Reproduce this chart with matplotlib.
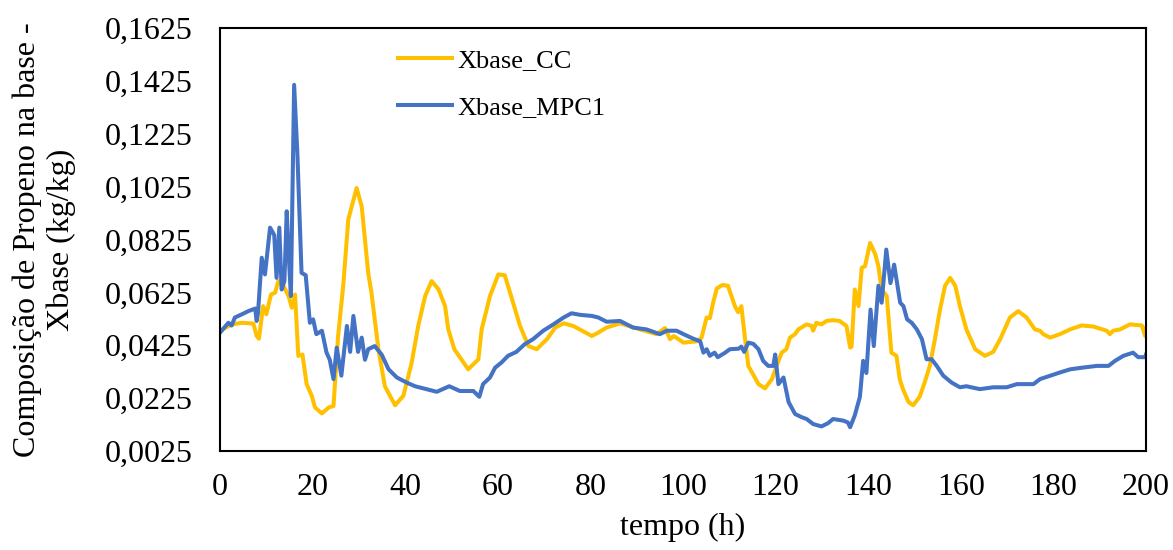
import matplotlib
matplotlib.use("Agg")
import matplotlib.pyplot as plt
from matplotlib.ticker import FixedLocator, FuncFormatter

plt.rcParams['font.family'] = ['Liberation Serif', 'DejaVu Serif']

t_cc = [0, 1.3, 3, 4.7, 7.2, 7.9, 8.4, 9.3, 10, 11, 11.9, 12.6, 13.7, 14.8, 15.5, 16.2, 16.9, 17.8,
        18.7, 19.8, 20.5, 22, 23.5, 24.5, 25.5, 26.6, 27.7, 29.5, 30.6, 32, 32.7, 34.2, 35.6, 37.8,
        39.6, 41.4, 42.8, 44.3, 45.7, 47.2, 48.6, 49.3, 50.6, 53.6, 55.8, 56.5, 58.3, 60.1, 61.5,
        63.3, 64.8, 66.6, 68.4, 70.6, 72.4, 74.2, 76.3, 80.3, 81.4, 83.5, 86.4, 90.7, 94.3, 96.1,
        97.2, 98, 100.1, 103, 104, 105.1, 105.8, 106.5, 107.3, 108.5, 109.7, 111.2, 111.9, 112.6,
        113.4, 114.1, 116.3, 117.7, 119.2, 120.2, 121.3, 122.3, 123.1, 124.2, 124.9, 126.7, 127.8,
        128.1, 128.8, 129.9, 131, 132.4, 133.8, 135.3, 136.1, 136.4, 137.1, 137.9, 138.6, 139.3,
        140.4, 141.5, 142.2, 142.9, 144, 145, 146.1, 146.8, 147.5, 148.7, 149.7, 151.1, 152.3,
        153.3, 154.4, 155.5, 156.6, 157.7, 158.8, 159.8, 161.2, 163.1, 165.2, 167, 168.5, 170.6,
        172.4, 174.2, 176, 177.1, 177.8, 179.3, 181.4, 183.6, 186.1, 188.6, 191.5, 192.2, 192.9,
        194.4, 196.5, 199.1, 199.8, 200]
x_cc = [0.0479, 0.0493, 0.0505, 0.051, 0.0507, 0.046, 0.045, 0.0573, 0.0542, 0.0617, 0.0624, 0.0668,
        0.0649, 0.0611, 0.0567, 0.0617, 0.0385, 0.039, 0.0278, 0.0234, 0.019, 0.0167, 0.019, 0.0195,
        0.046, 0.065, 0.0901, 0.1020, 0.095, 0.0699, 0.0624, 0.041, 0.027, 0.0198, 0.0234, 0.036,
        0.0498, 0.0611, 0.0668, 0.0636, 0.0573, 0.0485, 0.041, 0.0334, 0.0372, 0.0485, 0.0611,
        0.0693, 0.069, 0.0586, 0.0498, 0.0422, 0.041, 0.0448, 0.0492, 0.0508, 0.0498, 0.046, 0.047,
        0.0492, 0.0508, 0.0485, 0.0467, 0.049, 0.0448, 0.046, 0.0435, 0.044, 0.0454, 0.053, 0.0528,
        0.0586, 0.064, 0.0653, 0.065, 0.0573, 0.055, 0.0573, 0.0448, 0.0347, 0.0278, 0.0262, 0.0297,
        0.0347, 0.0397, 0.041, 0.0454, 0.0467, 0.0485, 0.0504, 0.0498, 0.048, 0.051, 0.0504, 0.0517,
        0.052, 0.0517, 0.0498, 0.0416, 0.042, 0.0636, 0.0573, 0.0718, 0.0724, 0.0812, 0.077, 0.0724,
        0.0636, 0.0611, 0.0397, 0.0385, 0.0297, 0.0259, 0.021, 0.0198, 0.023, 0.029, 0.0347, 0.0448,
        0.056, 0.065, 0.068, 0.065, 0.0573, 0.0485, 0.041, 0.0385, 0.040, 0.0448, 0.053, 0.0554,
        0.053, 0.0485, 0.048, 0.0467, 0.0454, 0.0467, 0.0485, 0.050, 0.0496, 0.048, 0.0467, 0.048,
        0.0485, 0.0504, 0.050, 0.046, 0.049]

t_mpc = [0, 1.8, 2.5, 3.2, 4.7, 6.1, 7.6, 7.9, 8.2, 9, 9.7, 10.8, 11.7, 12.2, 12.8, 13.3, 13.9, 14.4,
         14.8, 15.3, 16.0, 16.7, 17.6, 18.5, 19.4, 20.1, 20.8, 22, 23, 23.7, 24.5, 25.2, 26.2, 27.4,
         28.1, 28.8, 29.8, 30.6, 31.3, 32, 33.4, 34.9, 36.4, 38.2, 40.3, 42.1, 44.3, 46.8, 49.5,
         51.8, 54.7, 56, 56.8, 58.3, 59.4, 60.8, 62.2, 64, 65.8, 67.6, 69.8, 72, 74.2, 75.9, 77.8,
         80.3, 81.7, 83.5, 86.4, 89.2, 92.1, 95, 96.5, 98.6, 100.1, 102.2, 103.7, 104.4, 105.1,
         105.8, 106.8, 107.5, 109.1, 110.1, 112, 112.6, 113.2, 114.1, 115.2, 116.3, 117.3, 118.4,
         119.5, 119.9, 120.6, 121.7, 122.8, 124.2, 125.6, 126.7, 128.1, 129.9, 131.3, 132.4, 134.6,
         135.6, 136.1, 137.1, 138.2, 138.9, 139.6, 140.5, 141.2, 142.2, 142.9, 143.9, 144.8, 145.6,
         146.9, 147.6, 148.4, 149.4, 150.5, 151.6, 152.6, 153.7, 154.8, 156.2, 158, 159.8, 161.2,
         164.1, 167, 169.9, 172.1, 175.7, 177.1, 179.3, 181.4, 183.6, 186.1, 189.4, 191.9, 193.3,
         195.1, 197.2, 198.3, 199.8, 200]
x_mpc = [0.0473, 0.051, 0.050, 0.053, 0.0542, 0.0554, 0.0564, 0.0517, 0.0548, 0.0756, 0.0693, 0.087,
         0.0842, 0.068, 0.087, 0.0636, 0.0668, 0.0932, 0.0775, 0.0611, 0.141, 0.115, 0.0699, 0.069,
         0.051, 0.0523, 0.0467, 0.048, 0.0397, 0.037, 0.0297, 0.0416, 0.031, 0.0498, 0.040, 0.0536,
         0.040, 0.0454, 0.037, 0.041, 0.0422, 0.039, 0.0334, 0.0303, 0.0284, 0.027, 0.026, 0.0249,
         0.027, 0.0252, 0.0252, 0.023, 0.0278, 0.0303, 0.034, 0.036, 0.0385, 0.040, 0.0429, 0.0448,
         0.048, 0.0504, 0.053, 0.0546, 0.054, 0.0536, 0.053, 0.0514, 0.0517, 0.0492, 0.0485, 0.0467,
         0.048, 0.048, 0.0467, 0.045, 0.044, 0.0397, 0.041, 0.0385, 0.0397, 0.038, 0.0397, 0.041,
         0.0412, 0.042, 0.040, 0.0435, 0.043, 0.041, 0.0366, 0.0347, 0.0347, 0.039, 0.0278, 0.0303,
         0.021, 0.0165, 0.0153, 0.0146, 0.0127, 0.0118, 0.013, 0.0146, 0.014, 0.0133, 0.0115, 0.016,
         0.023, 0.0366, 0.032, 0.056, 0.0422, 0.065, 0.0586, 0.0787, 0.066, 0.073, 0.0586, 0.0573,
         0.0523, 0.051, 0.0485, 0.0448, 0.0372, 0.0372, 0.0347, 0.031, 0.0284, 0.0266, 0.027, 0.0259,
         0.0266, 0.0266, 0.0278, 0.0278, 0.0297, 0.031, 0.0322, 0.0334, 0.034, 0.0347, 0.0347, 0.0366,
         0.0385, 0.0397, 0.038, 0.038, 0.039]

x_ticks = [0, 20, 40, 60, 80, 100, 120, 140, 160, 180, 200]
y_ticks = [0.0025, 0.0225, 0.0425, 0.0625, 0.0825, 0.1025, 0.1225, 0.1425, 0.1625]

fig = plt.figure(figsize=(11.73, 5.5), dpi=100)
ax = fig.add_axes([0.1876, 0.18, 0.7894, 0.769])

ax.plot(t_cc, x_cc, color='#FFC000', lw=2.9, label='Xbase_CC', solid_joinstyle='round')
ax.plot(t_mpc, x_mpc, color='#4472C4', lw=2.9, label='Xbase_MPC1', solid_joinstyle='round')

ax.set_xlim(0, 200)
ax.set_ylim(0.0025, 0.1625)
ax.xaxis.set_major_locator(FixedLocator(x_ticks))
ax.yaxis.set_major_locator(FixedLocator(y_ticks))
ax.yaxis.set_major_formatter(FuncFormatter(lambda v, p: f"{v:.4f}".replace('.', ',')))
ax.tick_params(axis='both', length=0, labelsize=23)
ax.tick_params(axis='y', pad=20)
ax.tick_params(axis='x', pad=16)
for s in ax.spines.values():
    s.set_linewidth(1.5)
    s.set_color('black')

ax.set_xlabel('tempo (h)', fontsize=23, labelpad=8)
ax.set_ylabel('Composição de Propeno na base -\nXbase (kg/kg)', fontsize=23,
              va='center', ha='center', linespacing=1.2)
ax.yaxis.set_label_coords(-0.190, 0.5)

ax.legend(loc='upper left', bbox_to_anchor=(0.192, 0.952), frameon=False, fontsize=19,
          handlelength=2.05, handletextpad=0.2, labelspacing=0.9, borderpad=0, borderaxespad=0)

fig.savefig('out.png', dpi=100)
